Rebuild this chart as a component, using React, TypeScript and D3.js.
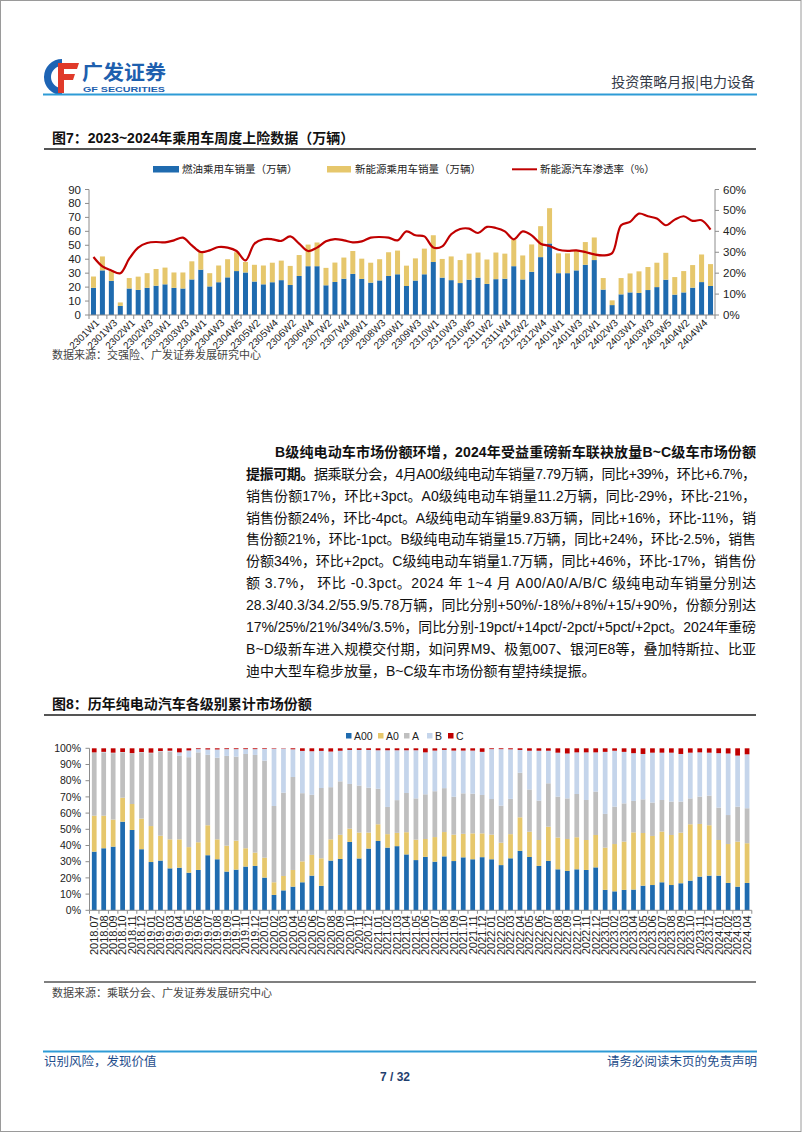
import React from 'react';
import * as d3 from 'd3';

// ---------- Figure 7 data ----------
const weeks = [
  '2301W1','2301W2','2301W3','2301W4',
  '2302W1','2302W2','2302W3','2302W4',
  '2303W1','2303W2','2303W3','2303W4',
  '2304W1','2304W2','2304W3','2304W4','2304W5',
  '2305W1','2305W2','2305W3','2305W4',
  '2306W1','2306W2','2306W3','2306W4',
  '2307W1','2307W2','2307W3','2307W4','2307W5',
  '2308W1','2308W2','2308W3','2308W4',
  '2309W1','2309W2','2309W3','2309W4',
  '2310W1','2310W2','2310W3','2310W4','2310W5',
  '2311W1','2311W2','2311W3','2311W4',
  '2312W1','2312W2','2312W3','2312W4','2312W5',
  '2401W1','2401W2','2401W3','2401W4',
  '2402W1','2402W2','2402W3','2402W4',
  '2403W1','2403W2','2403W3','2403W4','2403W5',
  '2404W1','2404W2','2404W3','2404W4','2404W5',
];
const fuelSales = [
  19.5,32,24.5,6.5,19,18,19.5,21,22,19.5,19,25.5,32.5,20.5,23.5,27,31.5,30.5,24,22,
  23.5,25,21.5,28,35,35,21.3,23.7,26,29.5,25.9,23.2,24.8,28,29.2,20.8,24.7,29.2,38,26.8,
  25,22.9,25.3,26.8,22.3,25.7,26,35,25.5,31,41.5,51.3,30,30,32,36,39.4,18.2,7.1,14.8,
  16.2,15.8,17.9,20,25.3,14.6,16.2,19.6,23.6,20.8,
];
const nevSales = [
  8.1,10,7.5,2.5,7.5,9.5,10.5,12,12,11,11.5,13,12.5,9.5,12,13,13.5,7.5,12,13.5,
  14,14,13.7,15,15.5,17,12.5,13.9,15.2,16.4,14.5,14.3,15.2,17,17,14.6,15.9,18.4,19.2,13.4,
  17,16.5,18.7,18,17.5,19.1,18,19.2,17.2,19.6,22.2,25.3,14.2,14.2,14,16.3,16.2,8.3,3.4,11.7,
  13.6,15.5,16.5,17.5,19.3,12.6,15.3,16.2,19.8,15.7,
];
const nevRate = [
  27.7,23.2,21.3,20,26.9,32.2,34.4,34.9,34.7,35.7,37,33.3,30.1,30.9,32.5,32.2,30.6,26.1,34.1,36.2,
  36.2,35.4,37.6,34.1,30.6,32.2,35.2,36.3,35.7,34.7,35.2,37,37.3,37,35.7,40,38.1,37.6,32.3,32.8,
  38.6,41.1,41.3,39.2,42.1,41.6,40,36.2,40,38.1,34.1,33,31.2,30.7,30.9,30.1,29,28.5,29.6,42.9,
  44.5,48.5,47.2,46.1,42.9,45.6,47.2,45,45.3,40.8,
];
const leftTicks = [0,10,20,30,40,50,60,70,80,90];
const rightTicks = [0,10,20,30,40,50,60];

// ---------- Figure 8 data ----------
const months = [
  '2018.07','2018.08','2018.09','2018.10','2018.11','2018.12',
  '2019.01','2019.02','2019.03','2019.04','2019.05','2019.06','2019.07','2019.08','2019.09','2019.10','2019.11','2019.12',
  '2020.01','2020.02','2020.03','2020.04','2020.05','2020.06','2020.07','2020.08','2020.09','2020.10','2020.11','2020.12',
  '2021.01','2021.02','2021.03','2021.04','2021.05','2021.06','2021.07','2021.08','2021.09','2021.10','2021.11','2021.12',
  '2022.01','2022.02','2022.03','2022.04','2022.05','2022.06','2022.07','2022.08','2022.09','2022.10','2022.11','2022.12',
  '2023.01','2023.02','2023.03','2023.04','2023.05','2023.06','2023.07','2023.08','2023.09','2023.10','2023.11','2023.12',
  '2024.01','2024.02','2024.03','2024.04',
];
const shareA00 = [
  36.2,38.3,39.3,54.7,49.6,37.7,29.8,30.7,25.9,26.3,23.2,24.9,34,31.5,23.9,25.1,27,27.4,
  20.2,9.5,12.3,14.6,17.3,21.4,15.1,30.7,31.7,42.2,32,38.1,
  42.8,38.7,39.6,34.5,31,33,30,33.3,30.4,32.7,31.5,32.8,
  31.5,27.9,32.1,36.7,32.9,27.4,30.5,25.3,24.3,25.3,24.9,26.5,
  12.6,11.7,12.6,12.8,15.2,15.6,17.3,15.6,16.7,18.3,20.8,21.4,
  21.4,16.9,14.6,16.9,
];
const shareA0 = [
  22.2,20.1,16.7,14.8,16,18.9,22.2,15.3,17.9,17.5,15.8,17.1,18.5,12.3,16,17.9,11.3,8.2,
  12.3,7.8,8.9,10.3,12.9,12.8,17,13.1,14.9,8.2,16,9.9,
  10.3,8.3,8.2,13.7,12.6,11,15.2,15,16.3,14.5,16,14.7,
  15.2,13.8,14.9,20.7,15.6,16,21.1,19.6,19.7,19.8,18.5,20,
  26.1,29.2,29.8,35.3,32.5,30.3,31.3,30.9,31.2,34.8,32.5,31.1,
  22,24,27.8,24.5,
];
const shareA = [
  39.1,39.1,41,28,31.2,40.9,45,52,54.2,51.7,55.5,55.5,43.5,50.4,55.4,51.9,58.2,60.3,
  59.9,47.1,51.4,57.4,42.1,37.1,43.4,32.2,33,27.6,29,27.7,
  21.9,16.8,20.2,24.2,25.5,27.6,28.3,27.1,23.4,25,24.5,23.7,
  22,22.9,21.8,27.5,26.1,24.3,26.8,25.3,25.1,26.7,24.7,26.8,
  20.8,23.1,23.6,19.4,20.8,20.6,19.5,20.6,19.2,16,16.9,18.3,
  20,17.9,21.6,21.6,
];
const shareB = [
  0,0.3,0.3,0.2,0.2,0.2,0.3,0.3,0.5,2,4.2,2,3.3,5.1,4.2,4.6,3,3.6,
  7.2,35.3,27.2,17.1,26.1,26.9,22.9,22,18.9,21,22,23.3,
  23.8,35,30.8,26.4,29.7,25.9,25.1,23.6,28.5,26.4,26.6,26.6,
  30.8,34.9,30.6,14.1,23.9,30.8,20.1,27.1,27.7,25.7,29.4,24.2,
  38.3,34.5,31.8,29.5,28,30.8,29.2,30.2,29.4,28.2,27.3,26.5,
  33.6,38,31.5,33.3,
];
const shareC = [
  2.5,2.2,2.7,2.3,3,2.3,2.7,1.7,1.5,2.5,1.3,0.5,0.7,0.7,0.5,0.5,0.5,0.5,
  0.4,0.3,0.2,0.6,1.6,1.8,1.6,2,1.5,1,1,1,
  1.2,1.2,1.2,1.2,1.2,2.5,1.4,1,1.4,1.4,1.4,2.2,
  0.5,0.5,0.6,1,1.5,1.5,1.5,2.7,3.2,2.5,2.5,2.5,
  2.2,1.5,2.2,3,3.5,2.7,2.7,2.7,3.5,2.7,2.5,2.7,
  3,3.2,4.5,3.7,
];
const shareSeries = ['A00','A0','A','B','C'];
const pctTicks = [0,10,20,30,40,50,60,70,80,90,100];

// ---------- text ----------
const paraLines: { segs: [string, boolean][]; indent: boolean; justify: boolean }[] = [
  { segs: [['B级纯电动车市场份额环增，2024年受益重磅新车联袂放量B~C级车市场份额', true]], indent: true, justify: true },
  { segs: [['提振可期。', true], ['据乘联分会，4月A00级纯电动车销量7.79万辆，同比+39%，环比+6.7%，', false]], indent: false, justify: true },
  { segs: [['销售份额17%，环比+3pct。A0级纯电动车销量11.2万辆，同比-29%，环比-21%，', false]], indent: false, justify: true },
  { segs: [['销售份额24%，环比-4pct。A级纯电动车销量9.83万辆，同比+16%，环比-11%，销', false]], indent: false, justify: true },
  { segs: [['售份额21%，环比-1pct。B级纯电动车销量15.7万辆，同比+24%，环比-2.5%，销售', false]], indent: false, justify: true },
  { segs: [['份额34%，环比+2pct。C级纯电动车销量1.7万辆，同比+46%，环比-17%，销售份', false]], indent: false, justify: true },
  { segs: [['额 3.7%， 环比 -0.3pct。2024 年 1~4 月 A00/A0/A/B/C 级纯电动车销量分别达', false]], indent: false, justify: true },
  { segs: [['28.3/40.3/34.2/55.9/5.78万辆，同比分别+50%/-18%/+8%/+15/+90%，份额分别达', false]], indent: false, justify: true },
  { segs: [['17%/25%/21%/34%/3.5%，同比分别-19pct/+14pct/-2pct/+5pct/+2pct。2024年重磅', false]], indent: false, justify: true },
  { segs: [['B~D级新车进入规模交付期，如问界M9、极氪007、银河E8等，叠加特斯拉、比亚', false]], indent: false, justify: true },
  { segs: [['迪中大型车稳步放量，B~C级车市场份额有望持续提振。', false]], indent: false, justify: false },
];

const SANS = '"Liberation Sans", Arial, "Noto Sans CJK SC", sans-serif';
const CJK = '"Noto Sans CJK SC", "Liberation Sans", sans-serif';

const BLUE = '#1F6BAF';
const YELLOW = '#E6C76C';
const GRAY = '#BFBFBF';
const LBLUE = '#C5D5EB';
const RED = '#C00000';
const AXIS = '#8C8C8C';

export default function App() {
  // ---- chart 1 scales ----
  const c1 = { left: 89, right: 715, top: 189.5, bottom: 315 };
  const x1 = d3.scaleBand<string>().domain(weeks).range([c1.left, c1.right]).paddingInner(0.44).paddingOuter(0.22);
  const y1 = d3.scaleLinear().domain([0, 90]).range([c1.bottom, c1.top]);
  const y1r = d3.scaleLinear().domain([0, 60]).range([c1.bottom, c1.top]);
  const step1 = x1.step();
  const rateLine = d3
    .line<number>()
    .x((_, i) => (x1(weeks[i]) as number) + x1.bandwidth() / 2)
    .y((d) => y1r(d))
    .curve(d3.curveCatmullRom.alpha(0.5));

  // ---- chart 2 scales ----
  const c2 = { left: 89.5, right: 751.8, top: 748.3, bottom: 910.3 };
  const x2 = d3.scaleBand<string>().domain(months).range([c2.left, c2.right]).paddingInner(0.5).paddingOuter(0.25);
  const y2 = d3.scaleLinear().domain([0, 100]).range([c2.bottom, c2.top]);
  const step2 = x2.step();
  const stackRows = months.map((m, i) => ({
    m, A00: shareA00[i], A0: shareA0[i], A: shareA[i], B: shareB[i], C: shareC[i],
  }));
  const stacked = d3.stack<any>().keys(shareSeries)(stackRows);
  const shareColors: Record<string, string> = { A00: BLUE, A0: YELLOW, A: GRAY, B: LBLUE, C: RED };
  const legend2 = [
    { k: 'A00', x: 346 },
    { k: 'A0', x: 378 },
    { k: 'A', x: 404 },
    { k: 'B', x: 427 },
    { k: 'C', x: 448 },
  ];

  const paraTop = 457;
  const paraStep = 21.85;

  return (
    <svg width={802} height={1133} style={{ position: 'absolute', left: 0, top: 0, background: '#fff' }}>
      <rect x={0} y={0} width={802} height={1133} fill="#fff" />
      <rect x={0.5} y={0.5} width={800.5} height={1131} fill="none" stroke="#9a9a9a" strokeWidth={1} />

      {/* ---------- header ---------- */}
      <g>
        <path d="M62,59 A18,18 0 1,0 62,95 L62,88 A11,11 0 1,1 62,66 Z" fill="#1E64B4" />
        <path d="M58,63 L79,63 L77,69 L64,69 L64,74 L75,74 L73,80 L64,80 L64,93 L58,93 Z" fill="#E03A2A" />
        <text x={82} y={79.5} fontFamily={CJK} fontWeight="bold" fontSize={20} fill="#1E5FAE" textLength={84} lengthAdjust="spacingAndGlyphs">广发证券</text>
        <text x={83} y={92} fontFamily={SANS} fontWeight="bold" fontSize={8} fill="#1E5FAE" textLength={82} lengthAdjust="spacingAndGlyphs">GF SECURITIES</text>
        <text x={755} y={87} textAnchor="end" fontFamily={CJK} fontSize={14} fill="#333a48">投资策略月报|电力设备</text>
        <line x1={43} x2={757} y1={94.5} y2={94.5} stroke="#2E9BD6" strokeWidth={2.2} />
      </g>

      {/* ---------- figure 7 ---------- */}
      <text x={52} y={143} fontFamily={SANS} fontWeight="bold" fontSize={14} fill="#111">图7：2023~2024年乘用车周度上险数据（万辆）</text>
      <line x1={44} x2={756} y1={149} y2={149} stroke="#555" strokeWidth={2} />

      {/* legend */}
      <g fontFamily={CJK} fontSize={10.5} fill="#222">
        <rect x={153} y={166} width={26} height={6.5} fill={BLUE} />
        <text x={182} y={173}>燃油乘用车销量（万辆）</text>
        <rect x={327} y={166} width={24} height={6.5} fill={YELLOW} />
        <text x={355} y={173}>新能源乘用车销量（万辆）</text>
        <line x1={512} x2={537} y1={169.3} y2={169.3} stroke={RED} strokeWidth={2} />
        <text x={540} y={173}>新能源汽车渗透率（%）</text>
      </g>

      {/* bars */}
      <g>
        {weeks.map((w, i) => (
          <g key={w}>
            <rect x={x1(w)} y={y1(fuelSales[i])} width={x1.bandwidth()} height={y1(0) - y1(fuelSales[i])} fill={BLUE} />
            <rect
              x={x1(w)}
              y={y1(fuelSales[i] + nevSales[i])}
              width={x1.bandwidth()}
              height={y1(fuelSales[i]) - y1(fuelSales[i] + nevSales[i])}
              fill={YELLOW}
            />
          </g>
        ))}
      </g>
      <path d={rateLine(nevRate) || ''} fill="none" stroke={RED} strokeWidth={2.2} />

      {/* axes chart 1 */}
      <g stroke={AXIS} strokeWidth={1}>
        <line x1={c1.left} x2={c1.left} y1={c1.top} y2={c1.bottom} />
        <line x1={c1.right} x2={c1.right} y1={c1.top} y2={c1.bottom} />
        <line x1={c1.left} x2={c1.right} y1={c1.bottom} y2={c1.bottom} />
        {leftTicks.map((t) => (
          <line key={'lt' + t} x1={c1.left - 4} x2={c1.left} y1={y1(t)} y2={y1(t)} />
        ))}
        {rightTicks.map((t) => (
          <line key={'rt' + t} x1={c1.right} x2={c1.right + 4} y1={y1r(t)} y2={y1r(t)} />
        ))}
        {weeks.map((w, i) => (
          <line key={'xt' + w} x1={c1.left + i * step1} x2={c1.left + i * step1} y1={c1.bottom} y2={c1.bottom + 4} />
        ))}
        <line x1={c1.right} x2={c1.right} y1={c1.bottom} y2={c1.bottom + 4} />
      </g>
      <g fontFamily={SANS} fontSize={11.5} fill="#222">
        {leftTicks.map((t) => (
          <text key={'ll' + t} x={c1.left - 8} y={y1(t)} dy="0.35em" textAnchor="end">{t}</text>
        ))}
        {rightTicks.map((t) => (
          <text key={'rl' + t} x={c1.right + 8} y={y1r(t)} dy="0.35em">{t}%</text>
        ))}
      </g>
      <g fontFamily={SANS} fontSize={10} fill="#222">
        {weeks.map((w, i) =>
          i % 2 === 0 ? (
            <text
              key={'xl' + w}
              transform={`translate(${(x1(w) as number) + x1.bandwidth() / 2 + 4},${c1.bottom + 6}) rotate(-45)`}
              textAnchor="end"
              dy="0.35em"
            >
              {w}
            </text>
          ) : null
        )}
      </g>

      <text x={52} y={359} fontFamily={CJK} fontSize={11} fill="#444">数据来源：交强险、广发证券发展研究中心</text>

      {/* ---------- paragraph ---------- */}
      <g fontFamily={SANS} fontSize={14} fill="#111">
        {paraLines.map((ln, i) => {
          const x = ln.indent ? 275 : 246;
          return (
            <text
              key={'p' + i}
              x={x}
              y={paraTop + i * paraStep}
              textLength={ln.justify ? 756 - x : undefined}
              lengthAdjust={ln.justify ? 'spacing' : undefined}
            >
              {ln.segs.map(([t, b], j) => (
                <tspan key={j} fontWeight={b ? 'bold' : 'normal'}>{t}</tspan>
              ))}
            </text>
          );
        })}
      </g>

      {/* ---------- figure 8 ---------- */}
      <text x={52} y={709} fontFamily={SANS} fontWeight="bold" fontSize={14} fill="#111">图8：历年纯电动汽车各级别累计市场份额</text>
      <line x1={44} x2={756} y1={715} y2={715} stroke="#555" strokeWidth={2} />

      <g fontFamily={SANS} fontSize={10.5} fill="#222">
        {legend2.map((l) => (
          <g key={'lg' + l.k}>
            <rect x={l.x} y={733} width={5.5} height={5.5} fill={shareColors[l.k]} />
            <text x={l.x + 8} y={739.5}>{l.k}</text>
          </g>
        ))}
      </g>

      <g>
        {stacked.map((s) => (
          <g key={s.key} fill={shareColors[s.key]}>
            {s.map((d, i) => (
              <rect
                key={i}
                x={x2(months[i])}
                y={y2(d[1])}
                width={x2.bandwidth()}
                height={Math.max(0, y2(d[0]) - y2(d[1]))}
              />
            ))}
          </g>
        ))}
      </g>

      <g stroke={AXIS} strokeWidth={1}>
        <line x1={c2.left} x2={c2.left} y1={c2.top} y2={c2.bottom} />
        <line x1={c2.left} x2={c2.right} y1={c2.bottom} y2={c2.bottom} />
        {pctTicks.map((t) => (
          <line key={'pt' + t} x1={c2.left - 4} x2={c2.left} y1={y2(t)} y2={y2(t)} />
        ))}
        {months.map((m, i) => (
          <line key={'mt' + m} x1={c2.left + i * step2} x2={c2.left + i * step2} y1={c2.bottom} y2={c2.bottom + 3.5} />
        ))}
        <line x1={c2.right} x2={c2.right} y1={c2.bottom} y2={c2.bottom + 3.5} />
      </g>
      <g fontFamily={SANS} fontSize={10.5} fill="#222">
        {pctTicks.map((t) => (
          <text key={'pl' + t} x={81} y={y2(t)} dy="0.35em" textAnchor="end">{t}%</text>
        ))}
      </g>
      <g fontFamily={SANS} fontSize={11} fill="#222">
        {months.map((m) => (
          <text
            key={'ml' + m}
            transform={`translate(${(x2(m) as number) + x2.bandwidth() / 2},${c2.bottom + 5}) rotate(-90)`}
            textAnchor="end"
            dy="0.35em"
          >
            {m}
          </text>
        ))}
      </g>

      <line x1={44} x2={756} y1={982} y2={982} stroke="#555" strokeWidth={1.5} />
      <text x={52} y={997} fontFamily={CJK} fontSize={11} fill="#444">数据来源：乘联分会、广发证券发展研究中心</text>

      {/* ---------- footer ---------- */}
      <line x1={43} x2={757} y1={1051.5} y2={1051.5} stroke="#2E9BD6" strokeWidth={2} />
      <text x={44} y={1066} fontFamily={CJK} fontSize={12.5} fill="#1F4E8C">识别风险，发现价值</text>
      <text x={757} y={1066} textAnchor="end" fontFamily={CJK} fontSize={12.5} fill="#1F4E8C">请务必阅读末页的免责声明</text>
      <text x={395} y={1081} textAnchor="middle" fontFamily={SANS} fontWeight="bold" fontSize={12} fill="#1F3E6E">7 / 32</text>
    </svg>
  );
}
